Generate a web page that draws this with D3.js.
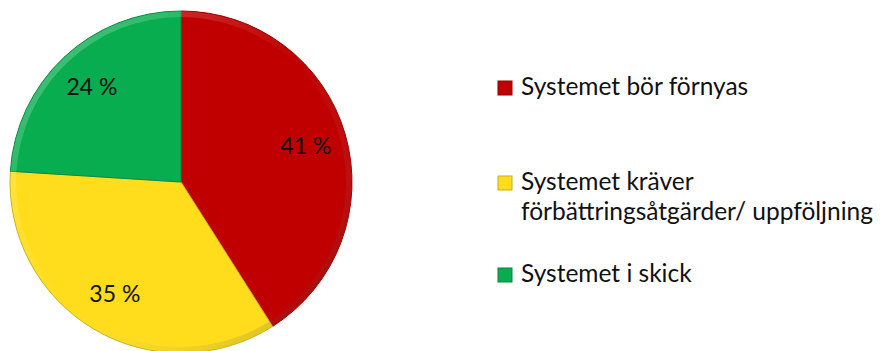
<!DOCTYPE html>
<html>
<head>
<meta charset="utf-8">
<script src="https://cdn.jsdelivr.net/npm/d3@7"></script>
<style>
  body { margin: 0; background: #fff; }
  text { font-family: Lato, "Open Sans", sans-serif; fill: #111; }
</style>
</head>
<body>
<svg width="880" height="351"></svg>
<script>
const categories = ['Systemet bör förnyas', 'Systemet kräver förbättringsåtgärder/ uppföljning', 'Systemet i skick'];
const values = [41, 35, 24];
const colors = ['#C00000', '#FFDD1C', '#08AD50'];

const svg = d3.select('svg');

const cx = 181, cy = 182, radius = 171;

const data = categories.map((c, i) => ({ name: c, value: values[i], color: colors[i] }));

const pie = d3.pie().value(d => d.value).sort(null);
const arc = d3.arc().innerRadius(0).outerRadius(radius);
const labelArc = d3.arc().innerRadius(130).outerRadius(130);
const rimArc = d3.arc().innerRadius(radius - 6).outerRadius(radius - 0.5);

const defs = svg.append('defs');
const grad = defs.append('linearGradient')
  .attr('id', 'rim')
  .attr('gradientUnits', 'userSpaceOnUse')
  .attr('x1', -radius).attr('y1', -radius).attr('x2', radius).attr('y2', radius);
grad.append('stop').attr('offset', '0%').attr('stop-color', '#fff').attr('stop-opacity', 0.3);
grad.append('stop').attr('offset', '50%').attr('stop-color', '#fff').attr('stop-opacity', 0);
grad.append('stop').attr('offset', '100%').attr('stop-color', '#000').attr('stop-opacity', 0.25);

const g = svg.append('g').attr('transform', `translate(${cx},${cy})`);
const arcs = pie(data);

g.selectAll('path.slice')
  .data(arcs)
  .enter()
  .append('path')
  .attr('class', 'slice')
  .attr('d', arc)
  .attr('fill', d => d.data.color)
  .attr('stroke', d => d3.color(d.data.color).darker(0.6))
  .attr('stroke-width', 1);

// bevel on the rim
g.selectAll('path.rim')
  .data(arcs)
  .enter()
  .append('path')
  .attr('class', 'rim')
  .attr('d', rimArc)
  .attr('fill', 'url(#rim)');

g.selectAll('text.pct')
  .data(arcs)
  .enter()
  .append('text')
  .attr('class', 'pct')
  .attr('transform', d => `translate(${labelArc.centroid(d)})`)
  .attr('text-anchor', 'middle')
  .attr('dy', '0.35em')
  .attr('font-size', 23)
  .text(d => `${d.data.value} %`);

// legend
const legendY = [88, 183, 275];
const legend = svg.append('g').attr('transform', 'translate(498,0)');

const items = legend.selectAll('g.item')
  .data(data)
  .enter()
  .append('g')
  .attr('class', 'item')
  .attr('transform', (d, i) => `translate(0,${legendY[i]})`);

items.append('rect')
  .attr('x', 0).attr('y', -7)
  .attr('width', 14).attr('height', 14)
  .attr('fill', d => d.color)
  .attr('stroke', d => d3.color(d.color).darker(0.7))
  .attr('stroke-width', 1);

const maxW = 360;
items.each(function(d) {
  const t = d3.select(this).append('text')
    .attr('x', 23)
    .attr('y', 7)
    .attr('font-size', 24.5);
  const words = d.name.split(' ');
  let line = [];
  let tspan = t.append('tspan').attr('x', 23);
  words.forEach(w => {
    line.push(w);
    tspan.text(line.join(' '));
    if (tspan.node().getComputedTextLength() > maxW && line.length > 1) {
      line.pop();
      tspan.text(line.join(' '));
      line = [w];
      tspan = t.append('tspan').attr('x', 23).attr('dy', 30).text(w);
    }
  });
});
</script>
</body>
</html>
